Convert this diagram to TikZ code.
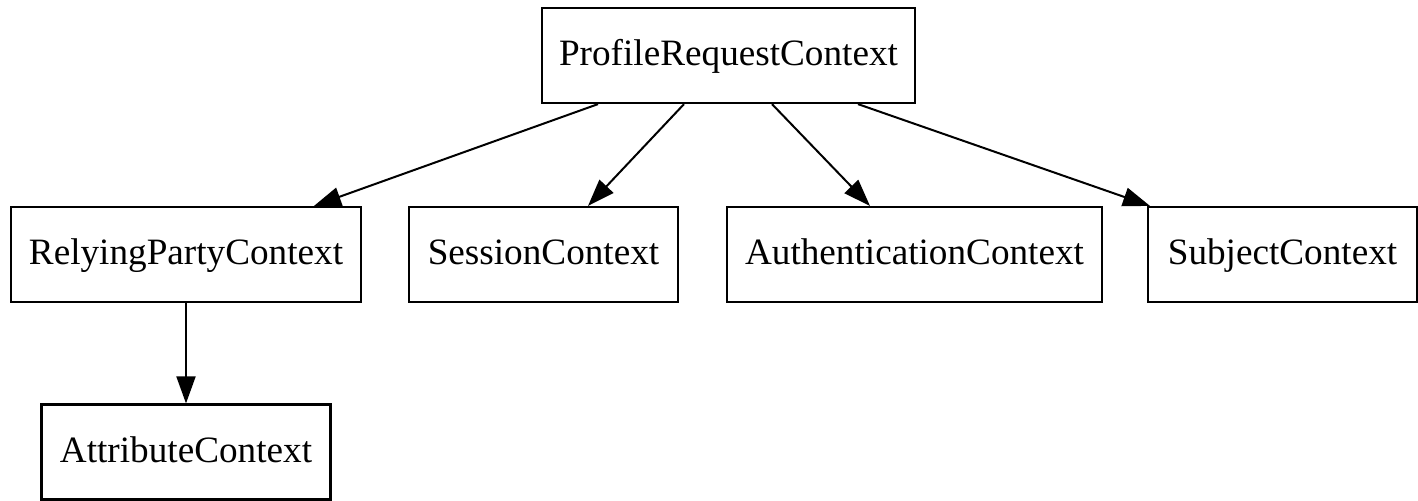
\documentclass[tikz,border=0pt]{standalone}
\usepackage{fontspec}
\setmainfont{Liberation Serif}
\usetikzlibrary{arrows.meta}

\begin{document}
\begin{tikzpicture}[x=0.5pt, y=-0.5pt,
    ctx/.style={draw, line width=1.1pt, inner sep=0pt, minimum height=47.5pt,
      text height=12.8pt, text depth=2.8pt,
      font=\fontsize{18.6}{22}\selectfont},
    edge/.style={-{Triangle[length=13.5pt, width=9.5pt]}, line width=1pt}]
    \useasboundingbox (0, 0) rectangle (1418, 500);
    \node [ctx, minimum width=186.5pt] (prc) at (728.5, 55.5) {ProfileRequestContext};
    \node [ctx, minimum width=175pt] (rpc) at (186, 254.5) {RelyingPartyContext};
    \node [ctx, minimum width=134.5pt] (sc) at (543.5, 254.5) {SessionContext};
    \node [ctx, minimum width=187.5pt] (ac) at (914.5, 254.5) {AuthenticationContext};
    \node [ctx, minimum width=134.5pt] (subj) at (1282.5, 254.5) {SubjectContext};
    \node [ctx, minimum width=144.5pt] (attr) at (186, 452) {AttributeContext};
    % children of the profile request
    \draw [edge] ([xshift=-65.25pt]prc.south) -- ([xshift=64pt]rpc.north);
    \draw [edge] ([xshift=-22.25pt]prc.south) -- ([xshift=22.25pt]sc.north);
    \draw [edge] ([xshift=21.75pt]prc.south) -- ([xshift=-22.25pt]ac.north);
    \draw [edge] ([xshift=64.75pt]prc.south) -- ([xshift=-66.25pt]subj.north);
    \draw [edge] (rpc) -- (attr);
  \end{tikzpicture}
\end{document}
